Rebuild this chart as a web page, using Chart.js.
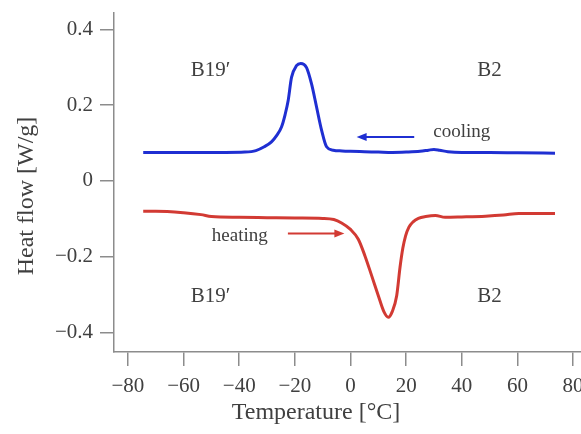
<!DOCTYPE html>
<html>
<head>
<meta charset="utf-8">
<script src="https://cdn.jsdelivr.net/npm/chart.js@4/dist/chart.umd.min.js"></script>
<style>
html,body{margin:0;padding:0;background:#fff;overflow:hidden;}
#wrap{width:581px;height:434px;overflow:hidden;position:relative;}
canvas{display:block;}
</style>
</head>
<body>
<div id="wrap"><canvas id="c" width="600" height="434" style="width:600px;height:434px"></canvas></div>
<script>
// ---- data ----
const coolingTemp = [-74.5,-60,-45,-38,-34,-31,-28.4,-26.5,-24.8,-23.5,-22.4,-21.2,-19.4,-17.9,-15.8,-14,-12.2,-10.4,-8.6,-6.2,-3,0,5,10,15,20,25,28,30,32,35,40,50,60,73.5];
const coolingFlow = [0.075,0.075,0.075,0.076,0.08,0.09,0.103,0.12,0.142,0.175,0.212,0.273,0.304,0.31,0.299,0.256,0.195,0.134,0.09,0.081,0.079,0.078,0.077,0.076,0.075,0.076,0.078,0.081,0.083,0.081,0.077,0.075,0.075,0.074,0.073];
const heatingTemp = [-74.5,-70,-60,-53.7,-50,-40,-30,-20,-10,-6,-3.2,0,2.8,5.2,7.6,10,12,13.6,15,16.6,17.8,18.8,19.8,21,22.5,24.4,27,30.5,34,40,48.5,55,60.5,67,73.5];
const heatingFlow = [-0.080,-0.080,-0.084,-0.089,-0.094,-0.096,-0.097,-0.098,-0.099,-0.102,-0.111,-0.128,-0.154,-0.198,-0.25,-0.303,-0.345,-0.36,-0.345,-0.303,-0.228,-0.178,-0.145,-0.122,-0.108,-0.099,-0.094,-0.091,-0.096,-0.095,-0.093,-0.09,-0.086,-0.086,-0.086];
const xTickValues = [-80,-60,-40,-20,0,20,40,60,80];
const yTickValues = [-0.4,-0.2,0,0.2,0.4];
const phaseLabels = ["B19\u2032","B2"];
const processLabels = ["cooling","heating"];
const xTitle = "Temperature [\u00B0C]";
const yTitle = "Heat flow [W/g]";

const BLUE = '#1f2fd2';
const RED = '#d23a33';
const TEXT = '#404040';
const AXIS = '#8c8c8c';
const FONT = "'Liberation Serif', 'Times New Roman', serif";

function pts(xs, ys){ return xs.map((x,i)=>({x:x,y:ys[i]})); }
function minus(v){ return String(v).replace('-', '\u2212'); }

const annot = {
  id:'annot',
  afterDatasetsDraw(chart){
    const ctx = chart.ctx, xs = chart.scales.x, ys = chart.scales.y, ca = chart.chartArea;
    const X = v=>xs.getPixelForValue(v), Y = v=>ys.getPixelForValue(v);
    ctx.save();
    ctx.fillStyle = TEXT;
    ctx.textAlign = 'center';
    ctx.textBaseline = 'middle';
    ctx.font = "21px " + FONT;
    ctx.fillText(phaseLabels[0], X(-50.3), Y(0.29));
    ctx.fillText(phaseLabels[1], X(50), Y(0.29));
    ctx.fillText(phaseLabels[0], X(-50.3), Y(-0.306));
    ctx.fillText(phaseLabels[1], X(50), Y(-0.306));
    ctx.font = "19px " + FONT;
    ctx.fillText(processLabels[0], X(40), Y(0.128));
    ctx.fillText(processLabels[1], X(-39.8), Y(-0.146));
    function arrow(x1,y1,x2,y2,col){
      ctx.strokeStyle = col; ctx.fillStyle = col; ctx.lineWidth = 2;
      const dir = Math.sign(x2-x1);
      ctx.beginPath(); ctx.moveTo(x1,y1); ctx.lineTo(x2 - dir*6,y2); ctx.stroke();
      ctx.beginPath(); ctx.moveTo(x2,y2); ctx.lineTo(x2-dir*10,y2-4); ctx.lineTo(x2-dir*10,y2+4); ctx.closePath(); ctx.fill();
    }
    arrow(X(22.9), Y(0.116), X(2.2), Y(0.116), BLUE);
    arrow(X(-22.5), Y(-0.139), X(-2.2), Y(-0.139), RED);
    // axis titles
    ctx.fillStyle = TEXT;
    ctx.font = "24px " + FONT;
    ctx.fillText(xTitle, ca.left + 202, 413);
    ctx.translate(27, ca.top + 183);
    ctx.rotate(-Math.PI/2);
    ctx.fillText(yTitle, 0, 0);
    ctx.restore();
  }
};

new Chart(document.getElementById('c'), {
  type:'scatter',
  data:{ datasets:[
    {data:pts(coolingTemp, coolingFlow), showLine:true, borderColor:BLUE, borderWidth:3, pointRadius:0, cubicInterpolationMode:'monotone'},
    {data:pts(heatingTemp, heatingFlow), showLine:true, borderColor:RED, borderWidth:3, pointRadius:0, cubicInterpolationMode:'monotone'}
  ]},
  options:{
    responsive:false, animation:false, devicePixelRatio:1,
    layout:{padding:{top:13, right:13, left:0, bottom:0}},
    plugins:{legend:{display:false}, tooltip:{enabled:false}},
    scales:{
      x:{type:'linear', min:-85, max:85,
        afterBuildTicks(s){ s.ticks = xTickValues.map(v=>({value:v})); },
        afterFit(s){ s.height = 82; s.paddingLeft = 0; s.paddingRight = 0; },
        border:{display:true, color:AXIS, width:1.5},
        grid:{display:true, drawOnChartArea:false, drawTicks:true, tickLength:14, color:AXIS, lineWidth:1.5},
        ticks:{color:TEXT, font:{family:FONT, size:21}, padding:8, maxRotation:0, autoSkip:false, callback:v=>minus(v)},
        title:{display:false}
      },
      y:{type:'linear', min:-0.4515, max:0.443,
        afterBuildTicks(s){ s.ticks = yTickValues.map(v=>({value:v})); },
        afterFit(s){ s.width = 114; s.paddingTop = 0; s.paddingBottom = 0; },
        border:{display:true, color:AXIS, width:1.5},
        grid:{display:true, drawOnChartArea:false, drawTicks:true, tickLength:14, color:AXIS, lineWidth:1.5},
        ticks:{color:TEXT, font:{family:FONT, size:21}, padding:7, autoSkip:false, callback:v=>minus(v)},
        title:{display:false}
      }
    }
  },
  plugins:[annot]
});
</script>
</body>
</html>
